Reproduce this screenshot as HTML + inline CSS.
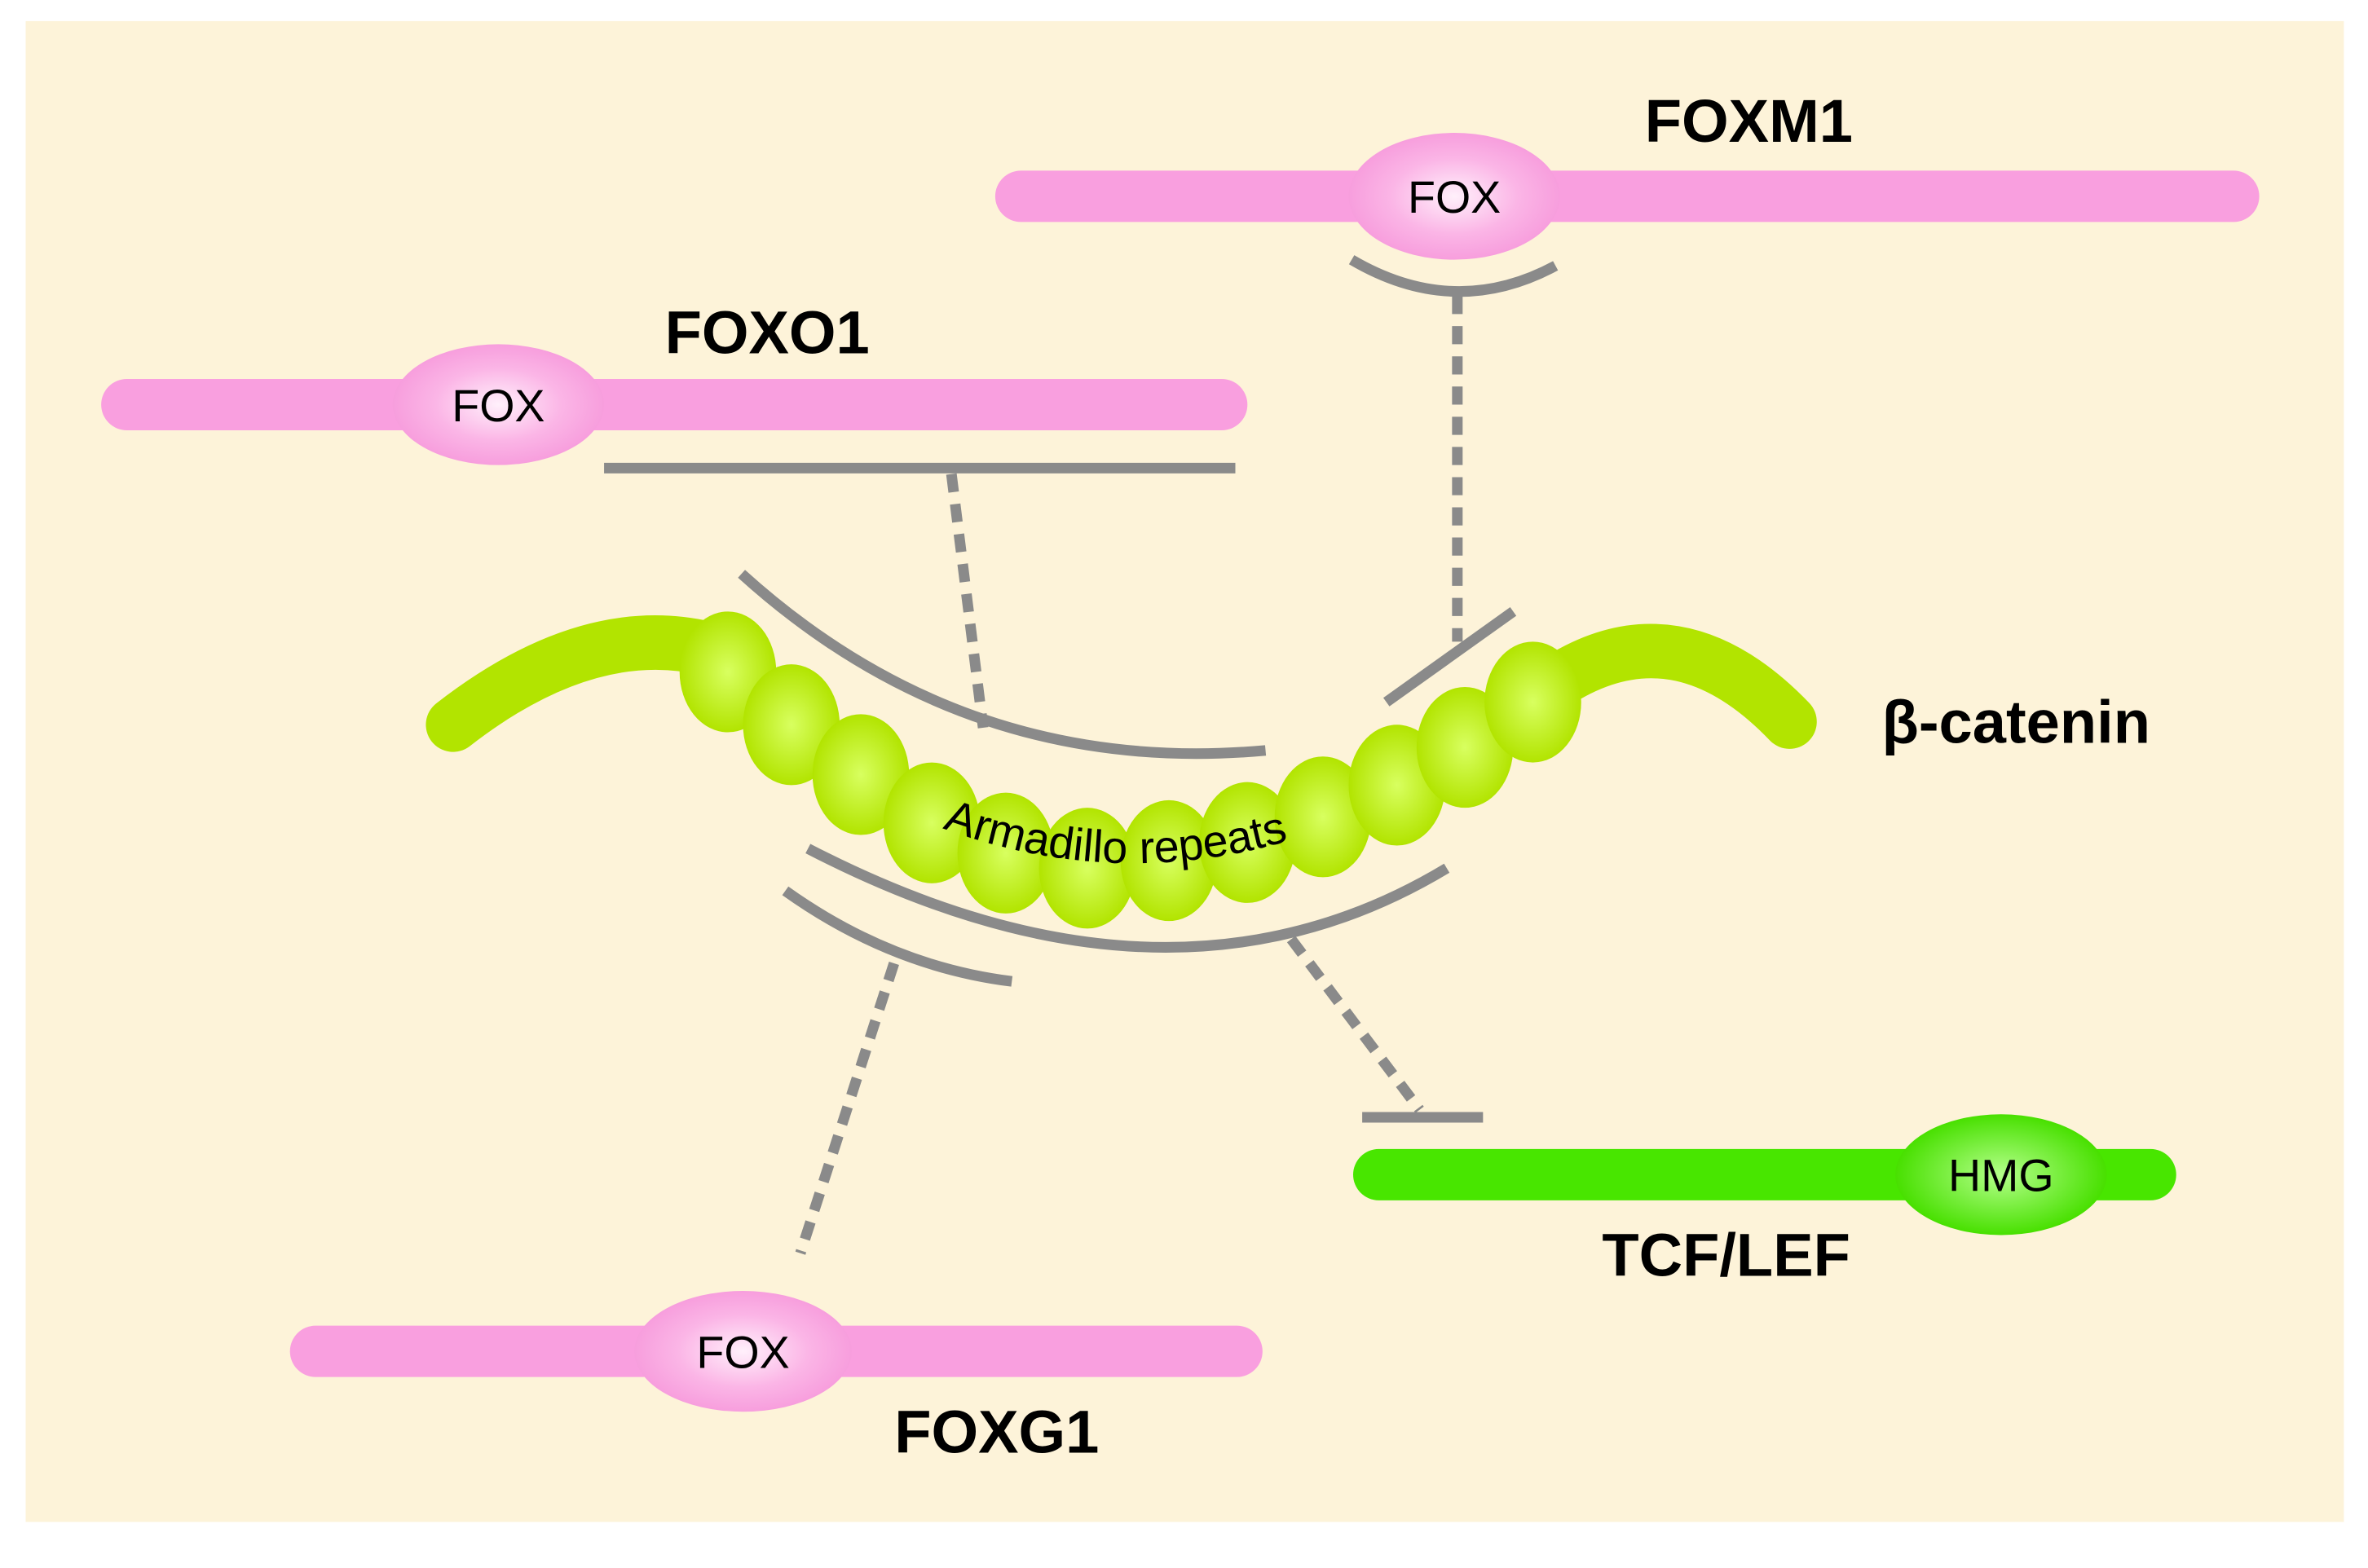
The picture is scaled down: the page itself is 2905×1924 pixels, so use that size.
<!DOCTYPE html>
<html><head><style>html,body{margin:0;padding:0;background:#fff}svg{display:block}</style></head>
<body>
<svg width="2905" height="1924" viewBox="0 0 1568 1038.5" preserveAspectRatio="none" xmlns="http://www.w3.org/2000/svg" font-family="Liberation Sans, sans-serif">
<defs>
<radialGradient id="pk" cx="50%" cy="50%" r="50%"><stop offset="0" stop-color="#fff0fb"/><stop offset="0.6" stop-color="#fbb5e6"/><stop offset="1" stop-color="#f79edd"/></radialGradient>
<radialGradient id="gr" cx="50%" cy="50%" r="50%"><stop offset="0" stop-color="#b4ff8a"/><stop offset="1" stop-color="#48e000"/></radialGradient>
<radialGradient id="lm" cx="50%" cy="50%" r="50%"><stop offset="0" stop-color="#d8ff60"/><stop offset="1" stop-color="#b2e400"/></radialGradient>
</defs>
<rect x="17" y="14" width="1535" height="994" fill="#fdf3d9"/>
<g stroke="#8a8a8a" stroke-width="7" fill="none">
<path d="M895 172 Q963 212 1030 176"/>
<line x1="965" y1="196" x2="965" y2="425" stroke-dasharray="12 8"/>
<line x1="918" y1="465" x2="1002" y2="405"/>
<line x1="400" y1="310" x2="818" y2="310"/>
<line x1="630" y1="314" x2="651" y2="482" stroke-dasharray="12 8"/>
<path d="M491 380 Q640 515 838 497"/>
<path d="M535 562 Q774 686 958 575"/>
<path d="M520 590 Q590 640 670 650"/>
<line x1="592" y1="638" x2="530" y2="830" stroke-dasharray="12 8"/>
<line x1="855" y1="622" x2="940" y2="735" stroke-dasharray="12 8"/>
<line x1="902" y1="740" x2="982" y2="740"/>
</g>
<!-- FOXM1 -->
<line x1="676" y1="130" x2="1479" y2="130" stroke="#f99fdf" stroke-width="34" stroke-linecap="round"/>
<ellipse cx="963" cy="130" rx="70" ry="42" fill="url(#pk)"/>
<text x="963" y="141" font-size="30" text-anchor="middle">FOX</text>
<text x="1158" y="94" font-size="40" font-weight="bold" text-anchor="middle">FOXM1</text>
<!-- FOXO1 -->
<line x1="84" y1="268" x2="809" y2="268" stroke="#f99fdf" stroke-width="34" stroke-linecap="round"/>
<ellipse cx="330" cy="268" rx="70" ry="40" fill="url(#pk)"/>
<text x="330" y="279" font-size="30" text-anchor="middle">FOX</text>
<text x="508" y="234" font-size="40" font-weight="bold" text-anchor="middle">FOXO1</text>
<!-- beta-catenin -->
<path d="M300 480 Q390 410 470 430" stroke="#b2e400" stroke-width="36" fill="none" stroke-linecap="round"/>
<path d="M1030 452 Q1110 400 1185 478" stroke="#b2e400" stroke-width="36" fill="none" stroke-linecap="round"/>
<g fill="url(#lm)">
<ellipse cx="482" cy="445" rx="32" ry="40"/>
<ellipse cx="524" cy="480" rx="32" ry="40"/>
<ellipse cx="570" cy="513" rx="32" ry="40"/>
<ellipse cx="617" cy="545" rx="32" ry="40"/>
<ellipse cx="666" cy="565" rx="32" ry="40"/>
<ellipse cx="720" cy="575" rx="32" ry="40"/>
<ellipse cx="774" cy="570" rx="32" ry="40"/>
<ellipse cx="826" cy="558" rx="32" ry="40"/>
<ellipse cx="876" cy="541" rx="32" ry="40"/>
<ellipse cx="925" cy="520" rx="32" ry="40"/>
<ellipse cx="970" cy="495" rx="32" ry="40"/>
<ellipse cx="1015" cy="465" rx="32" ry="40"/>
</g>
<path id="arm" d="M598 538 Q738 600 880 548" fill="none"/>
<text font-size="30"><textPath href="#arm" startOffset="50%" text-anchor="middle">Armadillo repeats</textPath></text>
<text x="1335" y="492" font-size="40" font-weight="bold" text-anchor="middle">β-catenin</text>
<!-- TCF/LEF -->
<line x1="913" y1="778" x2="1424" y2="778" stroke="#48e600" stroke-width="34" stroke-linecap="round"/>
<ellipse cx="1325" cy="778" rx="70" ry="40" fill="url(#gr)"/>
<text x="1325" y="789" font-size="30" text-anchor="middle">HMG</text>
<text x="1143" y="845" font-size="40" font-weight="bold" text-anchor="middle">TCF/LEF</text>
<!-- FOXG1 -->
<line x1="209" y1="895" x2="819" y2="895" stroke="#f99fdf" stroke-width="34" stroke-linecap="round"/>
<ellipse cx="492" cy="895" rx="72" ry="40" fill="url(#pk)"/>
<text x="492" y="906" font-size="30" text-anchor="middle">FOX</text>
<text x="660" y="962" font-size="40" font-weight="bold" text-anchor="middle">FOXG1</text>
</svg>
</body></html>
